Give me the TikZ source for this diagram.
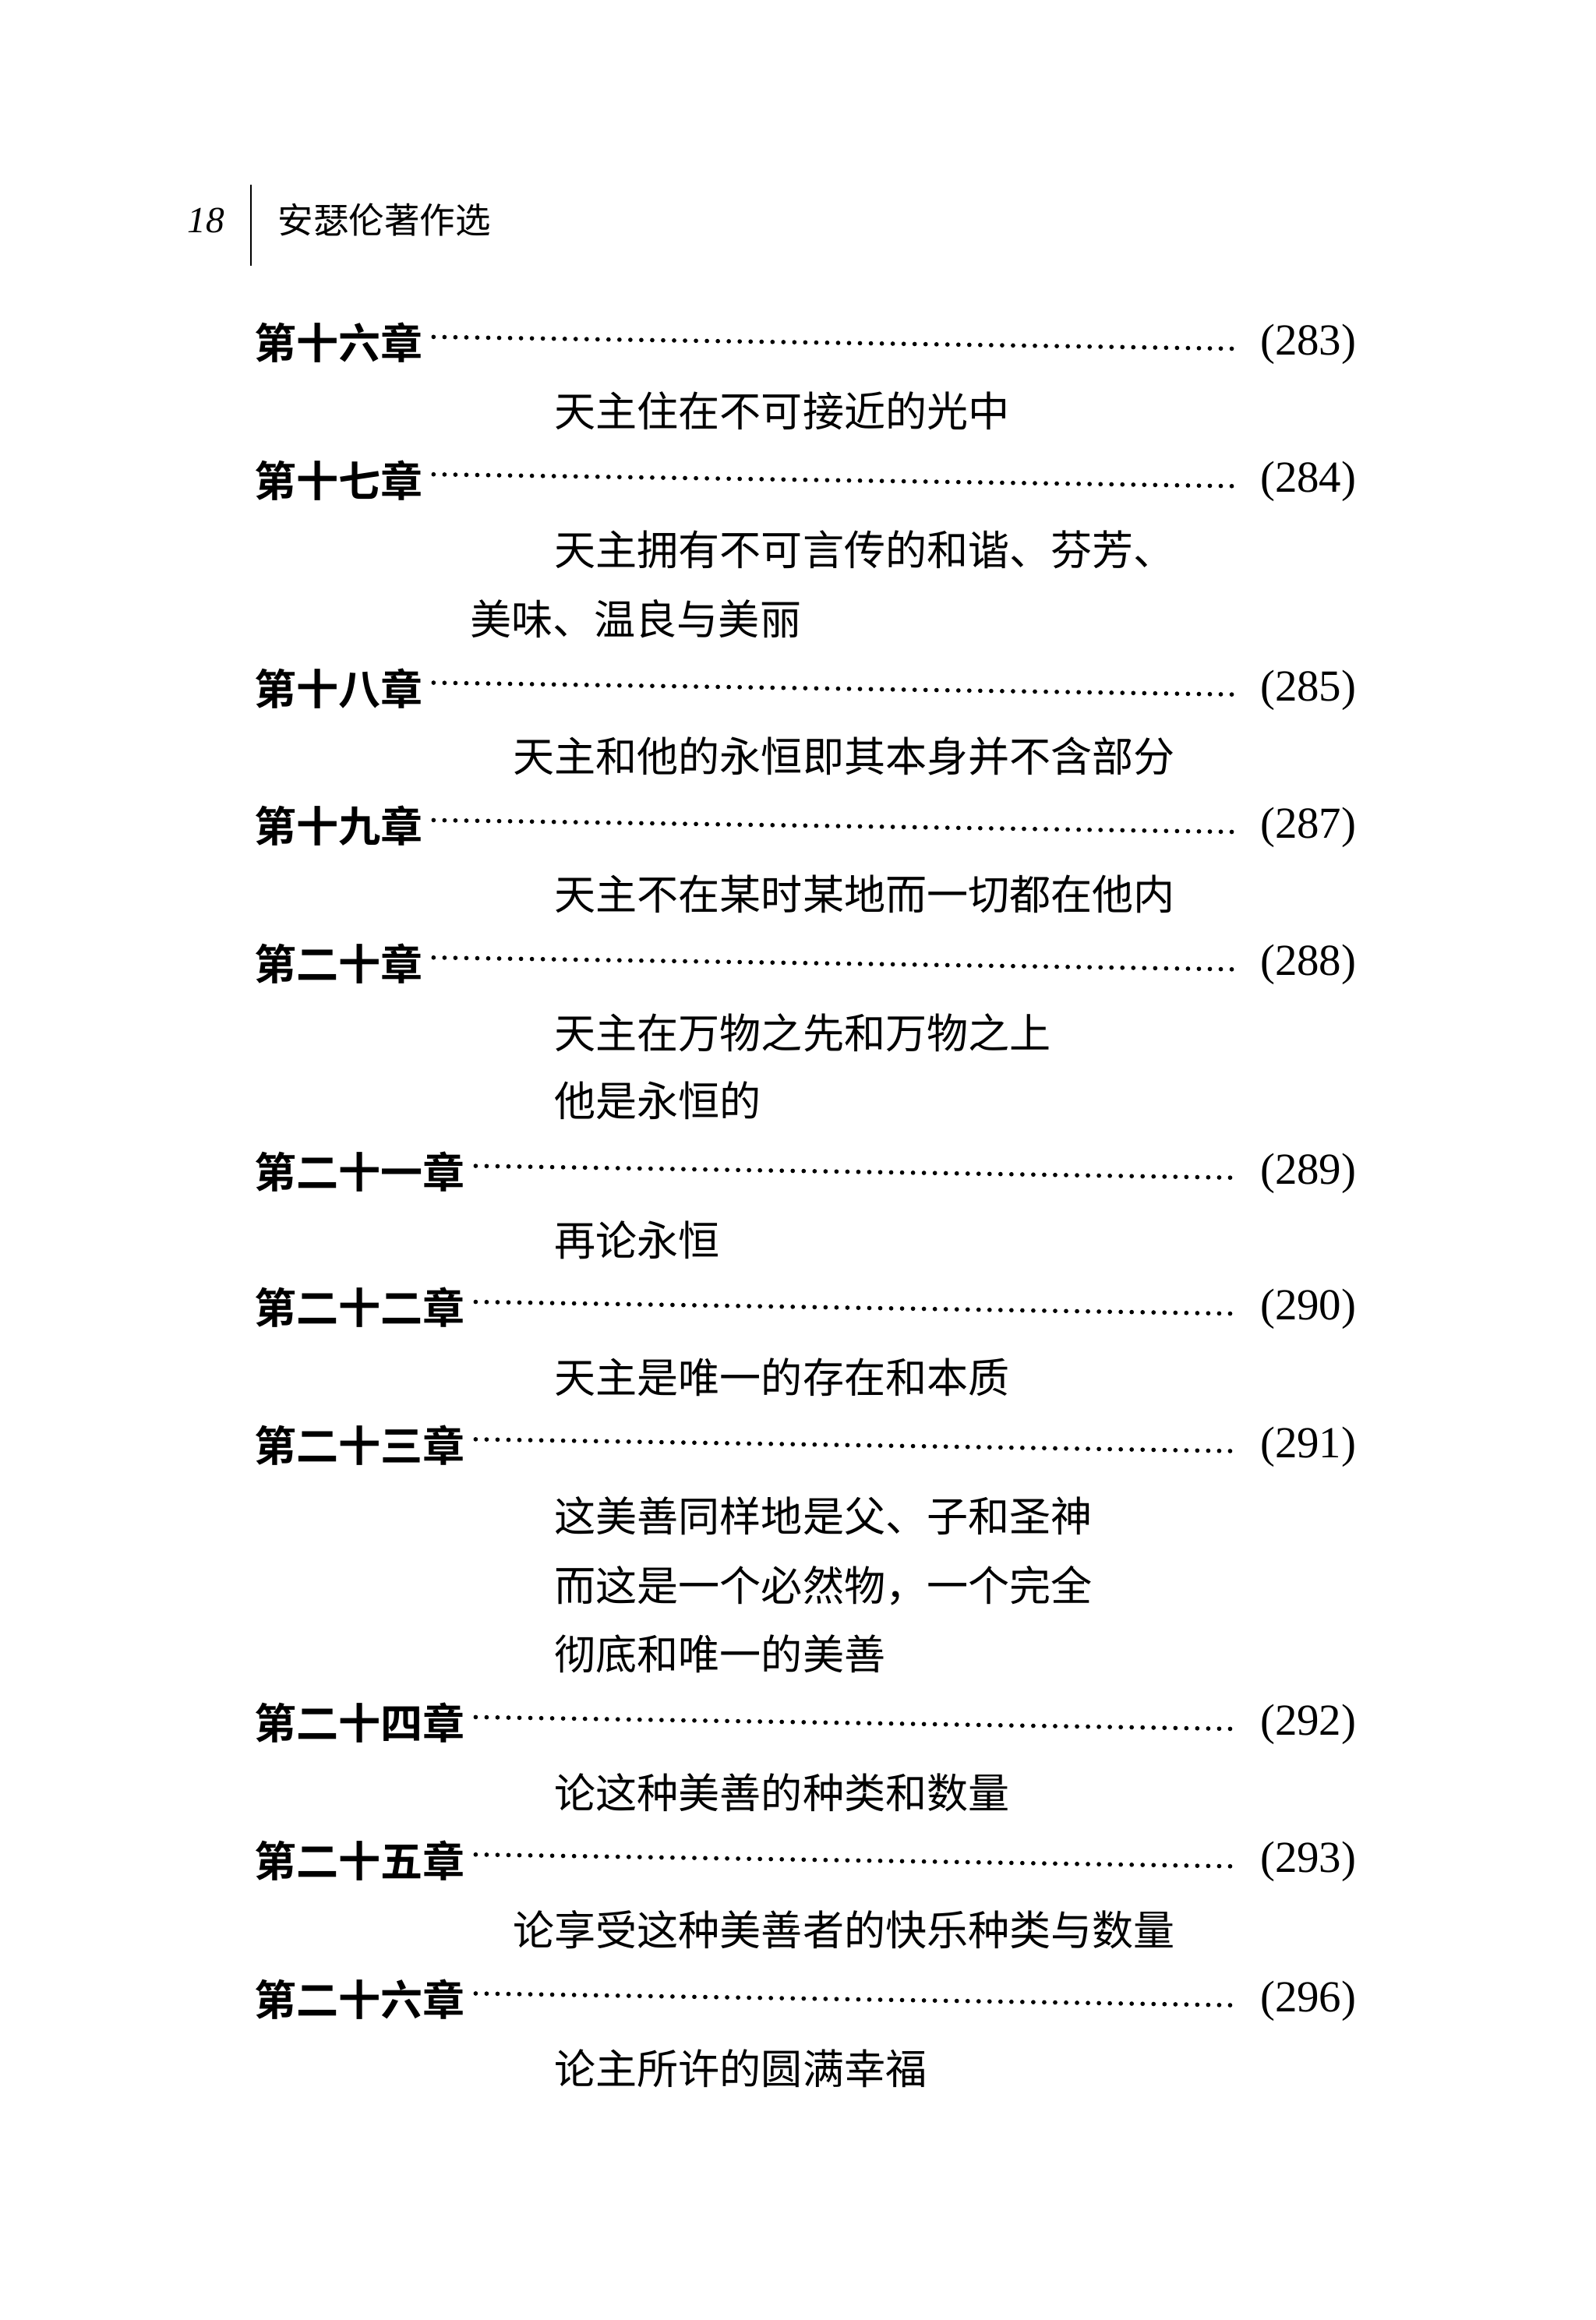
\documentclass[tikz,border=0pt]{standalone}
\usepackage{fontspec}
\setmainfont{Liberation Serif}
\newfontfamily\cjk{Noto Sans CJK SC}
\newfontfamily\cjkb{Noto Sans CJK SC Bold}
\begin{document}
\begin{tikzpicture}[x=1pt,y=-1pt,
  head/.style={anchor=west,inner sep=0pt,font=\cjkb\fontsize{28.5}{32}\selectfont},
  sub/.style={anchor=west,inner sep=0pt,font=\cjk\fontsize{28}{32}\selectfont},
  pg/.style={anchor=east,inner sep=0pt,font=\fontsize{30}{34}\selectfont},
  dots/.style={line width=3pt,line cap=round,dash pattern=on 0pt off 7.4pt}]
\useasboundingbox (0,0) rectangle (1080,1570);
\fill[white] (0,0) rectangle (1080,1570);
\node[anchor=east,inner sep=0pt,font=\itshape\fontsize{25}{28}\selectfont] (pn) at (152,149) {18};
\coordinate (la) at (170,125); \coordinate (lb) at (170,180);
\draw[line width=1.2pt] (la) -- (lb);
\node[anchor=west,inner sep=0pt,font=\cjk\fontsize{24}{28}\selectfont] (bt) at (188,149) {安瑟伦著作选};
\foreach \n/\y/\t/\p in {a/232/第十六章/283,b/325/第十七章/284,c/466/第十八章/285,d/559/第十九章/287,e/652/第二十章/288,f/793/第二十一章/289,g/885/第二十二章/290,h/978/第二十三章/291,i/1166/第二十四章/292,j/1259/第二十五章/293,k/1353/第二十六章/296}{
  \node[head] (h\n) at (172,\y) {\t};
  \node[pg] (p\n) at (918,\y+1) {(\p)};
  \coordinate (ds\n) at ([xshift=7pt,yshift=4pt]h\n.east);
  \coordinate (de\n) at (836,\y+4);
  \draw[dots] (ds\n) -- (de\n);
}
\foreach \n/\x/\y/\t in {s1/375/278/天主住在不可接近的光中,
 s2/375/372/天主拥有不可言传的和谐、芬芳、,
 s3/318/419/美味、温良与美丽,
 s4/347/512/天主和他的永恒即其本身并不含部分,
 s5/375/605/天主不在某时某地而一切都在他内,
 s6/375/699/天主在万物之先和万物之上,
 s7/375/745/他是永恒的,
 s8/375/839/再论永恒,
 s9/375/932/天主是唯一的存在和本质,
 s10/375/1026/这美善同样地是父、子和圣神,
 s11/375/1073/而这是一个必然物，一个完全,
 s12/375/1119/彻底和唯一的美善,
 s13/375/1213/论这种美善的种类和数量,
 s14/347/1306/论享受这种美善者的快乐种类与数量,
 s15/375/1400/论主所许的圆满幸福}{
  \node[sub] (\n) at (\x,\y) {\t};
}
\end{tikzpicture}
\end{document}
